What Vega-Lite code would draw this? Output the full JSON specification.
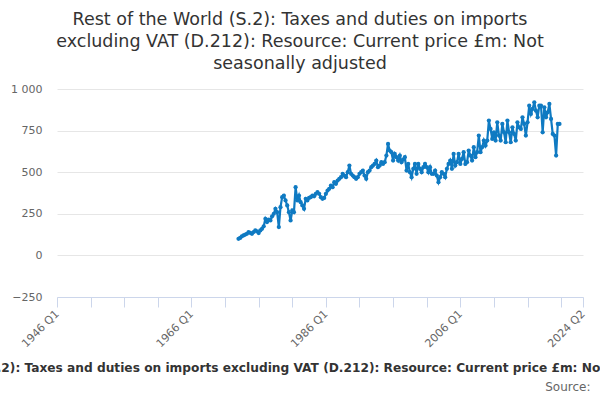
{
  "$schema": "https://vega.github.io/schema/vega-lite/v6.json",
  "width": 526,
  "height": 208,
  "autosize": {"type": "none"},
  "padding": {"left": 57, "top": 89, "right": 17, "bottom": 103},
  "background": "white",
  "config": {"view": {"stroke": null}, "font": "DejaVu Sans"},
  "title": {
    "text": [
      "Rest of the World (S.2): Taxes and duties on imports",
      "excluding VAT (D.212): Resource: Current price £m: Not",
      "seasonally adjusted"
    ],
    "font": "DejaVu Sans",
    "fontSize": 17.5,
    "fontWeight": "normal",
    "color": "#333333",
    "anchor": "middle",
    "dx": -20,
    "offset": 11,
    "lineHeight": 22
  },
  "data": {
    "values": [
      {"date": "1973-01-01", "value": 100}, {"date": "1973-04-01", "value": 105}, {"date": "1973-07-01", "value": 115}, {"date": "1973-10-01", "value": 120},
      {"date": "1974-01-01", "value": 125}, {"date": "1974-04-01", "value": 130}, {"date": "1974-07-01", "value": 140}, {"date": "1974-10-01", "value": 135},
      {"date": "1975-01-01", "value": 130}, {"date": "1975-04-01", "value": 140}, {"date": "1975-07-01", "value": 150}, {"date": "1975-10-01", "value": 145},
      {"date": "1976-01-01", "value": 134}, {"date": "1976-04-01", "value": 150}, {"date": "1976-07-01", "value": 160}, {"date": "1976-10-01", "value": 175},
      {"date": "1977-01-01", "value": 220}, {"date": "1977-04-01", "value": 200}, {"date": "1977-07-01", "value": 215}, {"date": "1977-10-01", "value": 210},
      {"date": "1978-01-01", "value": 235}, {"date": "1978-04-01", "value": 250}, {"date": "1978-07-01", "value": 280}, {"date": "1978-10-01", "value": 260},
      {"date": "1979-01-01", "value": 170}, {"date": "1979-04-01", "value": 290}, {"date": "1979-07-01", "value": 350}, {"date": "1979-10-01", "value": 360},
      {"date": "1980-01-01", "value": 330}, {"date": "1980-04-01", "value": 300}, {"date": "1980-07-01", "value": 260}, {"date": "1980-10-01", "value": 210},
      {"date": "1981-01-01", "value": 270}, {"date": "1981-04-01", "value": 260}, {"date": "1981-07-01", "value": 410}, {"date": "1981-10-01", "value": 330},
      {"date": "1982-01-01", "value": 360}, {"date": "1982-04-01", "value": 320}, {"date": "1982-07-01", "value": 300}, {"date": "1982-10-01", "value": 280},
      {"date": "1983-01-01", "value": 340}, {"date": "1983-04-01", "value": 330}, {"date": "1983-07-01", "value": 345}, {"date": "1983-10-01", "value": 350},
      {"date": "1984-01-01", "value": 360}, {"date": "1984-04-01", "value": 355}, {"date": "1984-07-01", "value": 370}, {"date": "1984-10-01", "value": 380},
      {"date": "1985-01-01", "value": 370}, {"date": "1985-04-01", "value": 350}, {"date": "1985-07-01", "value": 340}, {"date": "1985-10-01", "value": 345},
      {"date": "1986-01-01", "value": 370}, {"date": "1986-04-01", "value": 390}, {"date": "1986-07-01", "value": 400}, {"date": "1986-10-01", "value": 420},
      {"date": "1987-01-01", "value": 410}, {"date": "1987-04-01", "value": 440}, {"date": "1987-07-01", "value": 430}, {"date": "1987-10-01", "value": 450},
      {"date": "1988-01-01", "value": 460}, {"date": "1988-04-01", "value": 470}, {"date": "1988-07-01", "value": 490}, {"date": "1988-10-01", "value": 480},
      {"date": "1989-01-01", "value": 470}, {"date": "1989-04-01", "value": 500}, {"date": "1989-07-01", "value": 540}, {"date": "1989-10-01", "value": 490},
      {"date": "1990-01-01", "value": 480}, {"date": "1990-04-01", "value": 470}, {"date": "1990-07-01", "value": 460}, {"date": "1990-10-01", "value": 470},
      {"date": "1991-01-01", "value": 490}, {"date": "1991-04-01", "value": 500}, {"date": "1991-07-01", "value": 510}, {"date": "1991-10-01", "value": 480},
      {"date": "1992-01-01", "value": 460}, {"date": "1992-04-01", "value": 500}, {"date": "1992-07-01", "value": 510}, {"date": "1992-10-01", "value": 530},
      {"date": "1993-01-01", "value": 540}, {"date": "1993-04-01", "value": 550}, {"date": "1993-07-01", "value": 570}, {"date": "1993-10-01", "value": 530},
      {"date": "1994-01-01", "value": 540}, {"date": "1994-04-01", "value": 560}, {"date": "1994-07-01", "value": 550}, {"date": "1994-10-01", "value": 560},
      {"date": "1995-01-01", "value": 600}, {"date": "1995-04-01", "value": 670}, {"date": "1995-07-01", "value": 630}, {"date": "1995-10-01", "value": 620},
      {"date": "1996-01-01", "value": 570}, {"date": "1996-04-01", "value": 610}, {"date": "1996-07-01", "value": 590}, {"date": "1996-10-01", "value": 570},
      {"date": "1997-01-01", "value": 600}, {"date": "1997-04-01", "value": 560}, {"date": "1997-07-01", "value": 575}, {"date": "1997-10-01", "value": 590},
      {"date": "1998-01-01", "value": 510}, {"date": "1998-04-01", "value": 550}, {"date": "1998-07-01", "value": 500}, {"date": "1998-10-01", "value": 470},
      {"date": "1999-01-01", "value": 520}, {"date": "1999-04-01", "value": 550}, {"date": "1999-07-01", "value": 490}, {"date": "1999-10-01", "value": 550},
      {"date": "2000-01-01", "value": 520}, {"date": "2000-04-01", "value": 500}, {"date": "2000-07-01", "value": 530}, {"date": "2000-10-01", "value": 550},
      {"date": "2001-01-01", "value": 530}, {"date": "2001-04-01", "value": 500}, {"date": "2001-07-01", "value": 530}, {"date": "2001-10-01", "value": 490},
      {"date": "2002-01-01", "value": 490}, {"date": "2002-04-01", "value": 510}, {"date": "2002-07-01", "value": 480}, {"date": "2002-10-01", "value": 440},
      {"date": "2003-01-01", "value": 470}, {"date": "2003-04-01", "value": 500}, {"date": "2003-07-01", "value": 490}, {"date": "2003-10-01", "value": 470},
      {"date": "2004-01-01", "value": 520}, {"date": "2004-04-01", "value": 550}, {"date": "2004-07-01", "value": 570}, {"date": "2004-10-01", "value": 520},
      {"date": "2005-01-01", "value": 610}, {"date": "2005-04-01", "value": 540}, {"date": "2005-07-01", "value": 560}, {"date": "2005-10-01", "value": 610},
      {"date": "2006-01-01", "value": 550}, {"date": "2006-04-01", "value": 580}, {"date": "2006-07-01", "value": 620}, {"date": "2006-10-01", "value": 550},
      {"date": "2007-01-01", "value": 560}, {"date": "2007-04-01", "value": 630}, {"date": "2007-07-01", "value": 600}, {"date": "2007-10-01", "value": 570},
      {"date": "2008-01-01", "value": 650}, {"date": "2008-04-01", "value": 590}, {"date": "2008-07-01", "value": 620}, {"date": "2008-10-01", "value": 720},
      {"date": "2009-01-01", "value": 620}, {"date": "2009-04-01", "value": 650}, {"date": "2009-07-01", "value": 690}, {"date": "2009-10-01", "value": 660},
      {"date": "2010-01-01", "value": 690}, {"date": "2010-04-01", "value": 810}, {"date": "2010-07-01", "value": 760}, {"date": "2010-10-01", "value": 700},
      {"date": "2011-01-01", "value": 740}, {"date": "2011-04-01", "value": 690}, {"date": "2011-07-01", "value": 800}, {"date": "2011-10-01", "value": 720},
      {"date": "2012-01-01", "value": 690}, {"date": "2012-04-01", "value": 790}, {"date": "2012-07-01", "value": 740}, {"date": "2012-10-01", "value": 680},
      {"date": "2013-01-01", "value": 810}, {"date": "2013-04-01", "value": 740}, {"date": "2013-07-01", "value": 680}, {"date": "2013-10-01", "value": 770},
      {"date": "2014-01-01", "value": 730}, {"date": "2014-04-01", "value": 690}, {"date": "2014-07-01", "value": 800}, {"date": "2014-10-01", "value": 770},
      {"date": "2015-01-01", "value": 760}, {"date": "2015-04-01", "value": 830}, {"date": "2015-07-01", "value": 790}, {"date": "2015-10-01", "value": 720},
      {"date": "2016-01-01", "value": 800}, {"date": "2016-04-01", "value": 900}, {"date": "2016-07-01", "value": 850}, {"date": "2016-10-01", "value": 880},
      {"date": "2017-01-01", "value": 920}, {"date": "2017-04-01", "value": 870}, {"date": "2017-07-01", "value": 830}, {"date": "2017-10-01", "value": 900},
      {"date": "2018-01-01", "value": 900}, {"date": "2018-04-01", "value": 740}, {"date": "2018-07-01", "value": 890}, {"date": "2018-10-01", "value": 830},
      {"date": "2019-01-01", "value": 860}, {"date": "2019-04-01", "value": 910}, {"date": "2019-07-01", "value": 820}, {"date": "2019-10-01", "value": 730},
      {"date": "2020-01-01", "value": 720}, {"date": "2020-04-01", "value": 600}, {"date": "2020-07-01", "value": 790}, {"date": "2020-10-01", "value": 790}
    ]
  },
  "mark": {
    "type": "line",
    "color": "#0f7ac2",
    "strokeWidth": 2.2,
    "point": {"filled": true, "size": 18, "color": "#0f7ac2"}
  },
  "encoding": {
    "x": {
      "field": "date",
      "type": "temporal",
      "scale": {
        "type": "utc",
        "domain": [
          {"year": 1946, "month": 1, "date": 1, "utc": true},
          {"year": 2024, "month": 4, "date": 1, "utc": true}
        ]
      },
      "axis": {
        "title": "Rest of the World (S.2): Taxes and duties on imports excluding VAT (D.212): Resource: Current price £m: Not seasonally adjusted",
        "titleFontSize": 12.2,
        "titleFontWeight": "bold",
        "titleColor": "#333333",
        "titleX": 245,
        "titleY": 70,
        "titleAlign": "center",
        "titleBaseline": "middle",
        "titleLimit": 3000,
        "values": [
          {"year": 1946, "month": 1, "date": 1, "utc": true},
          {"year": 1951, "month": 1, "date": 1, "utc": true},
          {"year": 1956, "month": 1, "date": 1, "utc": true},
          {"year": 1961, "month": 1, "date": 1, "utc": true},
          {"year": 1966, "month": 1, "date": 1, "utc": true},
          {"year": 1971, "month": 1, "date": 1, "utc": true},
          {"year": 1976, "month": 1, "date": 1, "utc": true},
          {"year": 1981, "month": 1, "date": 1, "utc": true},
          {"year": 1986, "month": 1, "date": 1, "utc": true},
          {"year": 1991, "month": 1, "date": 1, "utc": true},
          {"year": 1996, "month": 1, "date": 1, "utc": true},
          {"year": 2001, "month": 1, "date": 1, "utc": true},
          {"year": 2006, "month": 1, "date": 1, "utc": true},
          {"year": 2011, "month": 1, "date": 1, "utc": true},
          {"year": 2016, "month": 1, "date": 1, "utc": true},
          {"year": 2021, "month": 1, "date": 1, "utc": true},
          {"year": 2024, "month": 4, "date": 1, "utc": true}
        ],
        "labelExpr": "utcyear(datum.value) == 2024 ? '2024 Q2' : (utcyear(datum.value) % 20 == 6 ? utcyear(datum.value) + ' Q1' : '')",
        "labelAngle": -45,
        "labelAlign": "right",
        "labelBaseline": "middle",
        "labelFontSize": 11,
        "labelColor": "#666666",
        "labelOverlap": false,
        "labelFlush": false,
        "labelBound": false,
        "labelPadding": 5,
        "domainColor": "#ccd6eb",
        "tickColor": "#ccd6eb",
        "tickSize": 10,
        "grid": false
      }
    },
    "y": {
      "field": "value",
      "type": "quantitative",
      "scale": {"domain": [-250, 1000], "nice": false, "zero": false},
      "axis": {
        "title": "Source:",
        "titleX": 533,
        "titleY": 297,
        "titleAngle": 0,
        "titleAlign": "right",
        "titleBaseline": "middle",
        "titleFontSize": 12,
        "titleFontWeight": "normal",
        "titleColor": "#666666",
        "values": [-250, 0, 250, 500, 750, 1000],
        "labelExpr": "replace(format(datum.value, ','), ',', ' ')",
        "labelFontSize": 11,
        "labelColor": "#666666",
        "labelPadding": 15,
        "domain": false,
        "ticks": false,
        "tickSize": 0,
        "gridColor": "#e6e6e6"
      }
    }
  }
}
